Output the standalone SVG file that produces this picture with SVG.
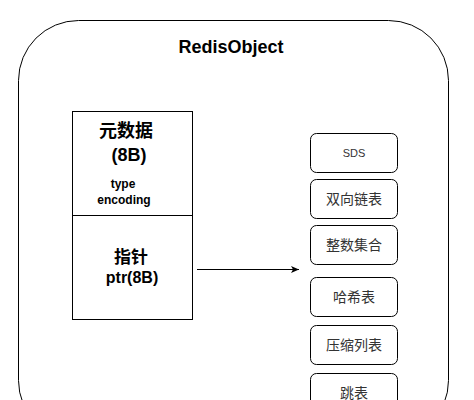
<svg xmlns="http://www.w3.org/2000/svg" width="474" height="400" viewBox="0 0 474 400">
<style>
.b{fill:#fff;stroke:#000;stroke-width:1}
.t{font-family:"Liberation Sans","Noto Sans CJK SC",sans-serif;text-anchor:middle;fill:#000}
.bold{font-weight:bold}
.s{font-size:14px;fill:#333}
</style>
<defs>
<marker id="ah" markerWidth="10" markerHeight="10" refX="8" refY="5" orient="auto" markerUnits="userSpaceOnUse">
<path d="M0,1.5 L8,5 L0,8.5 L2,5 Z" fill="#000"/>
</marker>
</defs>
<rect width="474" height="400" fill="#fff"/>
<g id="redisobject">
<rect class="b" x="18.5" y="20.5" width="430" height="420" rx="60" ry="60"/>
<text class="t bold" x="231" y="53" font-size="18">RedisObject</text>
</g>
<g id="meta">
<rect class="b" x="72.5" y="111.5" width="120" height="104"/>
<text class="t bold" x="126" y="137" font-size="18">元数据</text>
<text class="t bold" x="129" y="161" font-size="18">(8B)</text>
<text class="t bold" x="123" y="188" font-size="12">type</text>
<text class="t bold" x="124" y="204" font-size="12">encoding</text>
</g>
<g id="ptr">
<rect class="b" x="72.5" y="215.5" width="120" height="104"/>
<text class="t bold" x="131" y="263" font-size="17">指针</text>
<text class="t bold" x="132" y="283" font-size="16">ptr(8B)</text>
</g>
<g id="sds"><rect class="b" x="310.5" y="133.5" width="87" height="39" rx="6"/><text class="t s" x="354" y="157" font-size="11" style="font-size:11px">SDS</text></g>
<g id="linkedlist"><rect class="b" x="310.5" y="179.5" width="87" height="39" rx="6"/><text class="t s" x="354" y="204">双向链表</text></g>
<g id="intset"><rect class="b" x="310.5" y="225.5" width="87" height="39" rx="6"/><text class="t s" x="354" y="250">整数集合</text></g>
<g id="hashtable"><rect class="b" x="310.5" y="277.5" width="87" height="39" rx="6"/><text class="t s" x="354" y="302">哈希表</text></g>
<g id="ziplist"><rect class="b" x="310.5" y="325.5" width="87" height="39" rx="6"/><text class="t s" x="354" y="350">压缩列表</text></g>
<g id="skiplist"><rect class="b" x="310.5" y="373.5" width="87" height="39" rx="6"/><text class="t s" x="354" y="398">跳表</text></g>
<g id="connectors">
<line x1="197" y1="269.5" x2="299" y2="269.5" stroke="#000" stroke-width="1" marker-end="url(#ah)"/>
</g>
</svg>
